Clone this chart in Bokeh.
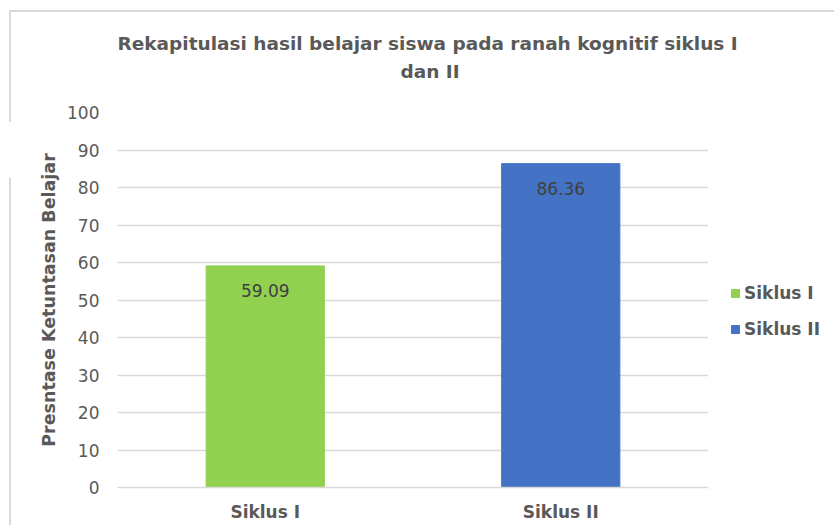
from bokeh.plotting import figure
from bokeh.models import (ColumnDataSource, LabelSet, Legend, LegendItem, Title, FixedTicker,
                          InlineStyleSheet)
from bokeh.core.properties import value
from bokeh.embed import file_html
from bokeh.resources import INLINE

categories = ["Siklus I", "Siklus II"]
values = [59.09, 86.36]
colors = ["#92d050", "#4472c4"]
value_labels = ["59.09", "86.36"]
y_ticks = [0, 10, 20, 30, 40, 50, 60, 70, 80, 90, 100]
title_lines = ["Rekapitulasi hasil belajar siswa pada ranah kognitif siklus I", "dan II"]

FONT = "DejaVu Sans"
GRAY = "#595959"

source = ColumnDataSource(dict(cat=categories, val=values, color=colors, lab=value_labels))

p = figure(x_range=categories, y_range=(0, 100), frame_width=591, frame_height=375,
           output_backend="svg", toolbar_location=None,
           min_border_left=117, min_border_right=110, min_border_top=112, min_border_bottom=38)

# light chart-area border (top edge and broken left edge as in the reference screenshot)
border_css = InlineStyleSheet(css="""
:host { position: relative; }
:host::before { content: ""; position: absolute; left: 9px; top: 10px; right: 0; height: 110px;
  border-top: 2px solid #d9d9d9; border-left: 2px solid #d9d9d9; pointer-events: none; z-index: 10; }
:host::after { content: ""; position: absolute; left: 9px; top: 178px; bottom: 0; width: 0;
  border-left: 2px solid #d9d9d9; pointer-events: none; z-index: 10; }
""")
p.stylesheets = [border_css]

bars = p.vbar(x="cat", top="val", width=0.4, color="color", source=source)

labels = LabelSet(x="cat", y="val", text="lab", source=source, y_offset=-25,
                  text_align="center", text_baseline="middle",
                  text_font=value(FONT), text_font_size=value("17px"), text_color="#404040")
p.add_layout(labels)

spacer = Title(text=" ", text_font_size="2px", standoff=22)
t2 = Title(text=title_lines[1], align="left", text_font=FONT, text_font_size="18.5px",
           text_font_style="bold", text_color=GRAY, offset=283, standoff=10)
t1 = Title(text=title_lines[0], align="left", text_font=FONT, text_font_size="18.5px",
           text_font_style="bold", text_color=GRAY, offset=0, standoff=0)
p.add_layout(spacer, "above")
p.add_layout(t2, "above")
p.add_layout(t1, "above")

p.outline_line_color = None
p.background_fill_color = "white"
p.border_fill_color = "white"
p.xgrid.grid_line_color = None
p.ygrid.grid_line_color = "#d9d9d9"
p.ygrid.grid_line_width = 1.5

p.yaxis.ticker = FixedTicker(ticks=y_ticks)
p.yaxis.axis_line_color = None
p.yaxis.major_tick_line_color = None
p.yaxis.minor_tick_line_color = None
p.yaxis.major_label_text_font = FONT
p.yaxis.major_label_text_font_size = "17px"
p.yaxis.major_label_text_color = GRAY
p.yaxis.major_label_standoff = 12
p.yaxis.axis_label = "Presntase Ketuntasan Belajar"
p.yaxis.axis_label_text_font = FONT
p.yaxis.axis_label_text_font_size = "17.5px"
p.yaxis.axis_label_text_font_style = "bold"
p.yaxis.axis_label_text_color = GRAY
p.yaxis.axis_label_standoff = 5

p.xaxis.axis_line_color = "#d9d9d9"
p.xaxis.axis_line_width = 1.5
p.xaxis.major_tick_line_color = None
p.xaxis.minor_tick_line_color = None
p.xaxis.major_label_text_font = FONT
p.xaxis.major_label_text_font_size = "17px"
p.xaxis.major_label_text_font_style = "bold"
p.xaxis.major_label_text_color = GRAY
p.xaxis.major_label_standoff = 8

items = [LegendItem(label=categories[i], renderers=[bars], index=i) for i in range(len(categories))]
legend = Legend(items=items, location=(22, 148), orientation="vertical",
                label_text_font=FONT, label_text_font_size="17px", label_text_font_style="bold",
                label_text_color=GRAY, glyph_width=10, glyph_height=10, spacing=16,
                label_standoff=4, border_line_color=None, background_fill_alpha=0,
                margin=0, padding=0)
p.add_layout(legend, "right")

open("out.html", "w").write(file_html(p, INLINE))
